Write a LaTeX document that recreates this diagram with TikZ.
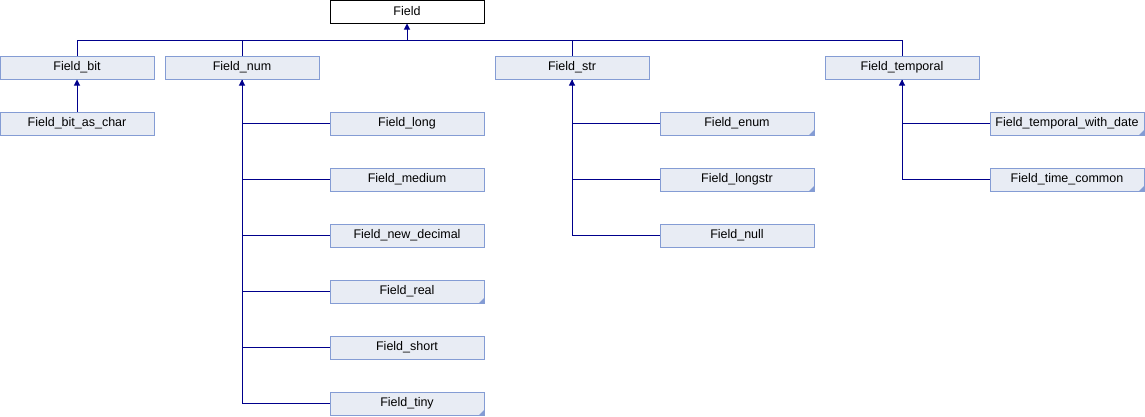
\documentclass[tikz,border=0pt]{standalone}
\usepackage{fontspec}
\setmainfont{Liberation Sans}
\usetikzlibrary{arrows.meta}
\definecolor{boxfill}{RGB}{232,236,244}
\definecolor{boxline}{RGB}{132,156,212}
\definecolor{conncol}{RGB}{0,0,140}
\tikzset{
  cls/.style={draw=boxline, fill=boxfill, line width=1pt, minimum width=154pt, minimum height=23pt, inner sep=0pt, font=\fontsize{12.5}{14}\selectfont},
  root/.style={cls, draw=black, fill=white},
  conn/.style={draw=conncol, line width=1pt},
  arr/.style={conn, -{Triangle[width=6pt,length=6pt]}},
}
\newcommand{\corner}[1]{\fill[boxline] ([xshift=-6pt]#1.south east) -- (#1.south east) -- ([yshift=6pt]#1.south east) -- cycle;}
\begin{document}
\begin{tikzpicture}[x=1pt,y=-1pt]
\useasboundingbox (0,0) rectangle (1145,416);
% nodes
\node[root] (field) at (407,11.5) {Field};
\node[cls] (fbit) at (77,67.5) {Field\_bit};
\node[cls] (fnum) at (242,67.5) {Field\_num};
\node[cls] (fstr) at (572,67.5) {Field\_str};
\node[cls] (ftemp) at (902,67.5) {Field\_temporal};
\node[cls] (fbitchar) at (77,123.5) {Field\_bit\_as\_char};
\node[cls] (flong) at (407,123.5) {Field\_long};
\node[cls] (fmedium) at (407,179.5) {Field\_medium};
\node[cls] (fnewdec) at (407,235.5) {Field\_new\_decimal};
\node[cls] (freal) at (407,291.5) {Field\_real};
\node[cls] (fshort) at (407,347.5) {Field\_short};
\node[cls] (ftiny) at (407,403.5) {Field\_tiny};
\node[cls] (fenum) at (737,123.5) {Field\_enum};
\node[cls] (flongstr) at (737,179.5) {Field\_longstr};
\node[cls] (fnull) at (737,235.5) {Field\_null};
\node[cls] (ftwd) at (1067,123.5) {Field\_temporal\_with\_date};
\node[cls] (ftc) at (1067,179.5) {Field\_time\_common};
% corner marks
\corner{freal}
\corner{ftiny}
\corner{fenum}
\corner{flongstr}
\corner{ftwd}
\corner{ftc}
% connectors
\coordinate (bus) at (407,40);
\draw[arr] (bus) -- (field.south);
\draw[conn] (fbit.north) |- (bus);
\draw[conn] (fnum.north) |- (bus);
\draw[conn] (fstr.north) |- (bus);
\draw[conn] (ftemp.north) |- (bus);
\draw[arr] (fbitchar.north) -- (fbit.south);
\draw[arr] (flong.west) -| (fnum.south);
\draw[conn] (fmedium.west) -| (fnum.south);
\draw[conn] (fnewdec.west) -| (fnum.south);
\draw[conn] (freal.west) -| (fnum.south);
\draw[conn] (fshort.west) -| (fnum.south);
\draw[conn] (ftiny.west) -| (fnum.south);
\draw[arr] (fenum.west) -| (fstr.south);
\draw[conn] (flongstr.west) -| (fstr.south);
\draw[conn] (fnull.west) -| (fstr.south);
\draw[arr] (ftwd.west) -| (ftemp.south);
\draw[conn] (ftc.west) -| (ftemp.south);
\end{tikzpicture}
\end{document}
